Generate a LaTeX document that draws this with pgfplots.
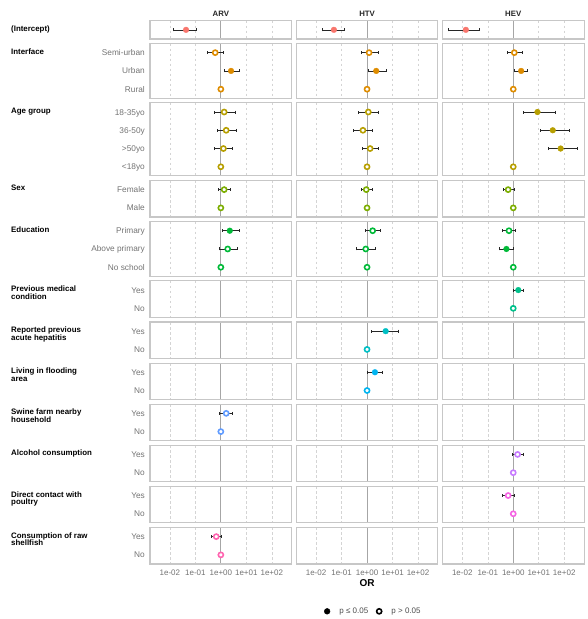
\documentclass[border=0pt]{standalone}
\usepackage{fontspec}
\setmainfont{Liberation Sans}
\usepackage{pgfplots}
\pgfplotsset{compat=1.18}

% one hue per variable group
\definecolor{cInt}{HTML}{F8766D}
\definecolor{cIface}{HTML}{DE8C00}
\definecolor{cAge}{HTML}{B79F00}
\definecolor{cSex}{HTML}{7CAE00}
\definecolor{cEdu}{HTML}{00BA38}
\definecolor{cMed}{HTML}{00C08B}
\definecolor{cHep}{HTML}{00BFC4}
\definecolor{cFlood}{HTML}{00B4F0}
\definecolor{cSwine}{HTML}{619CFF}
\definecolor{cAlc}{HTML}{C77CFF}
\definecolor{cPoul}{HTML}{F564E3}
\definecolor{cShell}{HTML}{FF64B0}

\tikzset{
  gridd/.style={black!17, line width=0.5pt, dash pattern=on 2.5pt off 2.5pt},
  refline/.style={black!35, line width=1pt},
  pframe/.style={black!22, line width=1.1pt},
  grp/.style={anchor=north west, inner sep=0pt, xshift=-139pt, yshift=4.4pt,
    align=left, font=\bfseries\fontsize{7.9}{7.7}\selectfont, text=black},
  strip/.style={anchor=base, inner sep=0pt, yshift=4.5pt,
    font=\bfseries\fontsize{7.8}{9}\selectfont, text=black!85},
}

% one facet panel: frame, dashed decade lines, solid line at OR = 1
\newcommand{\panel}[2]{%
  \draw[gridd] (axis cs:0.01,#1) -- (axis cs:0.01,#2);
  \draw[gridd] (axis cs:0.1,#1) -- (axis cs:0.1,#2);
  \draw[gridd] (axis cs:10,#1) -- (axis cs:10,#2);
  \draw[gridd] (axis cs:100,#1) -- (axis cs:100,#2);
  \draw[refline] (axis cs:1,#1) -- (axis cs:1,#2);
  \draw[pframe] (axis cs:0.0016596,#1) rectangle (axis cs:602.56,#2);
}
\newcommand{\allpanels}{%
  \panel{0}{1}\panel{1.25}{4.25}\panel{4.5}{8.5}\panel{8.75}{10.75}%
  \panel{11}{14}\panel{14.25}{16.25}\panel{16.5}{18.5}\panel{18.75}{20.75}%
  \panel{21}{23}\panel{23.25}{25.25}\panel{25.5}{27.5}\panel{27.75}{29.75}}

\pgfplotsset{
  ebars/.style={error bars/x dir=both, error bars/x explicit,
    error bars/error mark=|,
    error bars/error bar style={black!85, line width=0.55pt},
    error bars/error mark options={black!85, line width=0.55pt, mark size=1.5pt}},
  sigpt/.style={only marks, mark=*, mark size=2.9pt,
    mark options={draw=#1, fill=#1, line width=0.3pt}, ebars},
  nsigpt/.style={only marks, mark=*, mark size=2.55pt,
    mark options={draw=#1, fill=white, line width=1.6pt}, ebars},
  refpt/.style={only marks, mark=*, mark size=2.55pt,
    mark options={draw=#1, fill=white, line width=1.6pt}},
  % table columns: odds ratio, row position, lower and upper 95% limits
  table/ortab/.style={x=or, y=y,
    x error plus expr=\thisrow{hi}-\thisrow{or},
    x error minus expr=\thisrow{or}-\thisrow{lo}},
}

\begin{document}
\begin{tikzpicture}
\path[use as bounding box] (0,0) rectangle (587pt,619pt);

% ---------------- ARV ----------------
\begin{axis}[width=141.7pt, height=543.3pt, scale only axis,
  xmode=log, xmin=0.0016596, xmax=602.56, ymin=0, ymax=29.75, y dir=reverse,
  clip=false, axis line style={draw=none}, tick style={draw=none},
  major tick length=0pt, xminorticks=false, yminorticks=false,
  xtick={0.01,0.1,1,10,100},
  xticklabels={1e-02,1e-01,1e+00,1e+01,1e+02},
  xticklabel style={anchor=base, inner sep=0pt, yshift=-11.6pt,
    font=\fontsize{8}{9}\selectfont, text=black!55},
  at={(150pt,55pt)}, anchor=south west,
  ytick={1.75,2.75,3.75,5,6,7,8,9.25,10.25,11.5,12.5,13.5,14.75,15.75,17,18,19.25,20.25,21.5,22.5,23.75,24.75,26,27,28.25,29.25},
  yticklabels={Semi-urban,Urban,Rural,18-35yo,36-50y,>50yo,<18yo,Female,Male,Primary,Above primary,No school,Yes,No,Yes,No,Yes,No,Yes,No,Yes,No,Yes,No,Yes,No},
  yticklabel style={anchor=base east, inner sep=0pt, xshift=-5pt, yshift=-3pt,
    font=\fontsize{8.3}{9}\selectfont, text=black!55}]
\allpanels
\node[strip] at (axis description cs:0.5,1) {ARV};
\node[grp] at (axis cs:0.0016596,0.5) {(Intercept)};
\node[grp] at (axis cs:0.0016596,1.75) {Interface};
\node[grp] at (axis cs:0.0016596,5) {Age group};
\node[grp] at (axis cs:0.0016596,9.25) {Sex};
\node[grp] at (axis cs:0.0016596,11.5) {Education};
\node[grp] at (axis cs:0.0016596,14.75) {Previous medical\\condition};
\node[grp] at (axis cs:0.0016596,17) {Reported previous\\acute hepatitis};
\node[grp] at (axis cs:0.0016596,19.25) {Living in flooding\\area};
\node[grp] at (axis cs:0.0016596,21.5) {Swine farm nearby\\household};
\node[grp] at (axis cs:0.0016596,23.75) {Alcohol consumption};
\node[grp] at (axis cs:0.0016596,26) {Direct contact with\\poultry};
\node[grp] at (axis cs:0.0016596,28.25) {Consumption of raw\\shellfish};

\addplot[sigpt=cInt] table[ortab] {
or y lo hi
0.043 0.5 0.0138 0.105
};
\addplot[nsigpt=cIface] table[ortab] {
or y lo hi
0.60 1.75 0.30 1.26
};
\addplot[sigpt=cIface] table[ortab] {
or y lo hi
2.51 2.75 1.35 5.25
};
\addplot[nsigpt=cAge] table[ortab] {
or y lo hi
1.35 5 0.56 3.55
1.62 6 0.74 3.98
1.26 7 0.56 2.88
};
\addplot[nsigpt=cSex] table[ortab] {
or y lo hi
1.35 9.25 0.81 2.40
};
\addplot[sigpt=cEdu] table[ortab] {
or y lo hi
2.24 11.5 1.15 5.25
};
\addplot[nsigpt=cEdu] table[ortab] {
or y lo hi
1.86 12.5 0.85 4.37
};
\addplot[nsigpt=cSwine] table[ortab] {
or y lo hi
1.62 21.5 0.89 2.88
};
\addplot[nsigpt=cShell] table[ortab] {
or y lo hi
0.66 28.25 0.41 1.02
};
% reference categories
\addplot[refpt=cIface] table[x=or, y=y] {
or y
1 3.75
};
\addplot[refpt=cAge] table[x=or, y=y] {
or y
1 8
};
\addplot[refpt=cSex] table[x=or, y=y] {
or y
1 10.25
};
\addplot[refpt=cEdu] table[x=or, y=y] {
or y
1 13.5
};
\addplot[refpt=cSwine] table[x=or, y=y] {
or y
1 22.5
};
\addplot[refpt=cShell] table[x=or, y=y] {
or y
1 29.25
};
\end{axis}

% ---------------- HTV ----------------
\begin{axis}[width=141.7pt, height=543.3pt, scale only axis,
  xmode=log, xmin=0.0016596, xmax=602.56, ymin=0, ymax=29.75, y dir=reverse,
  clip=false, axis line style={draw=none}, tick style={draw=none},
  major tick length=0pt, xminorticks=false, yminorticks=false,
  xtick={0.01,0.1,1,10,100},
  xticklabels={1e-02,1e-01,1e+00,1e+01,1e+02},
  xticklabel style={anchor=base, inner sep=0pt, yshift=-11.6pt,
    font=\fontsize{8}{9}\selectfont, text=black!55},
  ytick=\empty,
  at={(296.2pt,55pt)}, anchor=south west,
  legend style={at={(axis description cs:0.538,-0.0871)}, anchor=center,
    draw=none, fill=none, inner sep=0pt, legend columns=2,
    nodes={inner sep=0pt},
    font=\fontsize{8}{9}\selectfont, text=black!70,
    /tikz/column 2/.style={column sep=8.3pt}},
  legend cell align=left,
  legend image code/.code={%
    \path[draw=none, fill=none] (0pt,0pt) -- (12.3pt,0pt);
    \draw[#1] plot coordinates {(0pt,0pt)};}]
\addlegendimage{only marks, mark=*, mark size=2.9pt, black}
\addlegendentry{p ≤ 0.05}
\addlegendimage{only marks, mark=*, mark size=2.55pt, mark options={draw=black, fill=white, line width=1.6pt}}
\addlegendentry{p > 0.05}
\allpanels
\node[strip] at (axis description cs:0.5,1) {HTV};
\node[anchor=base, inner sep=0pt, yshift=-22.9pt,
  font=\bfseries\fontsize{10}{12}\selectfont] at (axis description cs:0.5,0) {OR};

\addplot[sigpt=cInt] table[ortab] {
or y lo hi
0.050 0.5 0.0174 0.126
};
\addplot[nsigpt=cIface] table[ortab] {
or y lo hi
1.20 1.75 0.59 2.75
};
\addplot[sigpt=cIface] table[ortab] {
or y lo hi
2.29 2.75 1.10 5.75
};
\addplot[nsigpt=cAge] table[ortab] {
or y lo hi
1.12 5 0.45 2.75
0.69 6 0.30 1.66
1.32 7 0.63 2.88
};
\addplot[nsigpt=cSex] table[ortab] {
or y lo hi
0.93 9.25 0.59 1.66
};
\addplot[nsigpt=cEdu] table[ortab] {
or y lo hi
1.66 11.5 0.83 3.31
0.89 12.5 0.37 2.14
};
\addplot[sigpt=cHep] table[ortab] {
or y lo hi
5.37 17 1.48 16.6
};
\addplot[sigpt=cFlood] table[ortab] {
or y lo hi
2.04 19.25 1.02 4.07
};
% reference categories
\addplot[refpt=cIface] table[x=or, y=y] {
or y
1 3.75
};
\addplot[refpt=cAge] table[x=or, y=y] {
or y
1 8
};
\addplot[refpt=cSex] table[x=or, y=y] {
or y
1 10.25
};
\addplot[refpt=cEdu] table[x=or, y=y] {
or y
1 13.5
};
\addplot[refpt=cHep] table[x=or, y=y] {
or y
1 18
};
\addplot[refpt=cFlood] table[x=or, y=y] {
or y
1 20.25
};
\end{axis}

% ---------------- HEV ----------------
\begin{axis}[width=141.7pt, height=543.3pt, scale only axis,
  xmode=log, xmin=0.0016596, xmax=602.56, ymin=0, ymax=29.75, y dir=reverse,
  clip=false, axis line style={draw=none}, tick style={draw=none},
  major tick length=0pt, xminorticks=false, yminorticks=false,
  xtick={0.01,0.1,1,10,100},
  xticklabels={1e-02,1e-01,1e+00,1e+01,1e+02},
  xticklabel style={anchor=base, inner sep=0pt, yshift=-11.6pt,
    font=\fontsize{8}{9}\selectfont, text=black!55},
  ytick=\empty,
  at={(442.4pt,55pt)}, anchor=south west]
\allpanels
\node[strip] at (axis description cs:0.5,1) {HEV};

\addplot[sigpt=cInt] table[ortab] {
or y lo hi
0.0138 0.5 0.00295 0.0479
};
\addplot[nsigpt=cIface] table[ortab] {
or y lo hi
1.10 1.75 0.60 2.19
};
\addplot[sigpt=cIface] table[ortab] {
or y lo hi
2.04 2.75 1.12 3.63
};
\addplot[sigpt=cAge] table[ortab] {
or y lo hi
8.91 5 2.51 44.7
35.5 6 12.0 162
72.4 7 24.5 324
};
\addplot[nsigpt=cSex] table[ortab] {
or y lo hi
0.63 9.25 0.42 1.07
};
\addplot[nsigpt=cEdu] table[ortab] {
or y lo hi
0.68 11.5 0.38 1.17
};
\addplot[sigpt=cEdu] table[ortab] {
or y lo hi
0.54 12.5 0.28 0.98
};
\addplot[sigpt=cMed] table[ortab] {
or y lo hi
1.58 14.75 1.00 2.51
};
\addplot[nsigpt=cAlc] table[ortab] {
or y lo hi
1.48 23.75 0.93 2.51
};
\addplot[nsigpt=cPoul] table[ortab] {
or y lo hi
0.63 26 0.38 1.10
};
% reference categories
\addplot[refpt=cIface] table[x=or, y=y] {
or y
1 3.75
};
\addplot[refpt=cAge] table[x=or, y=y] {
or y
1 8
};
\addplot[refpt=cSex] table[x=or, y=y] {
or y
1 10.25
};
\addplot[refpt=cEdu] table[x=or, y=y] {
or y
1 13.5
};
\addplot[refpt=cMed] table[x=or, y=y] {
or y
1 15.75
};
\addplot[refpt=cAlc] table[x=or, y=y] {
or y
1 24.75
};
\addplot[refpt=cPoul] table[x=or, y=y] {
or y
1 27
};
\end{axis}
\end{tikzpicture}
\end{document}
